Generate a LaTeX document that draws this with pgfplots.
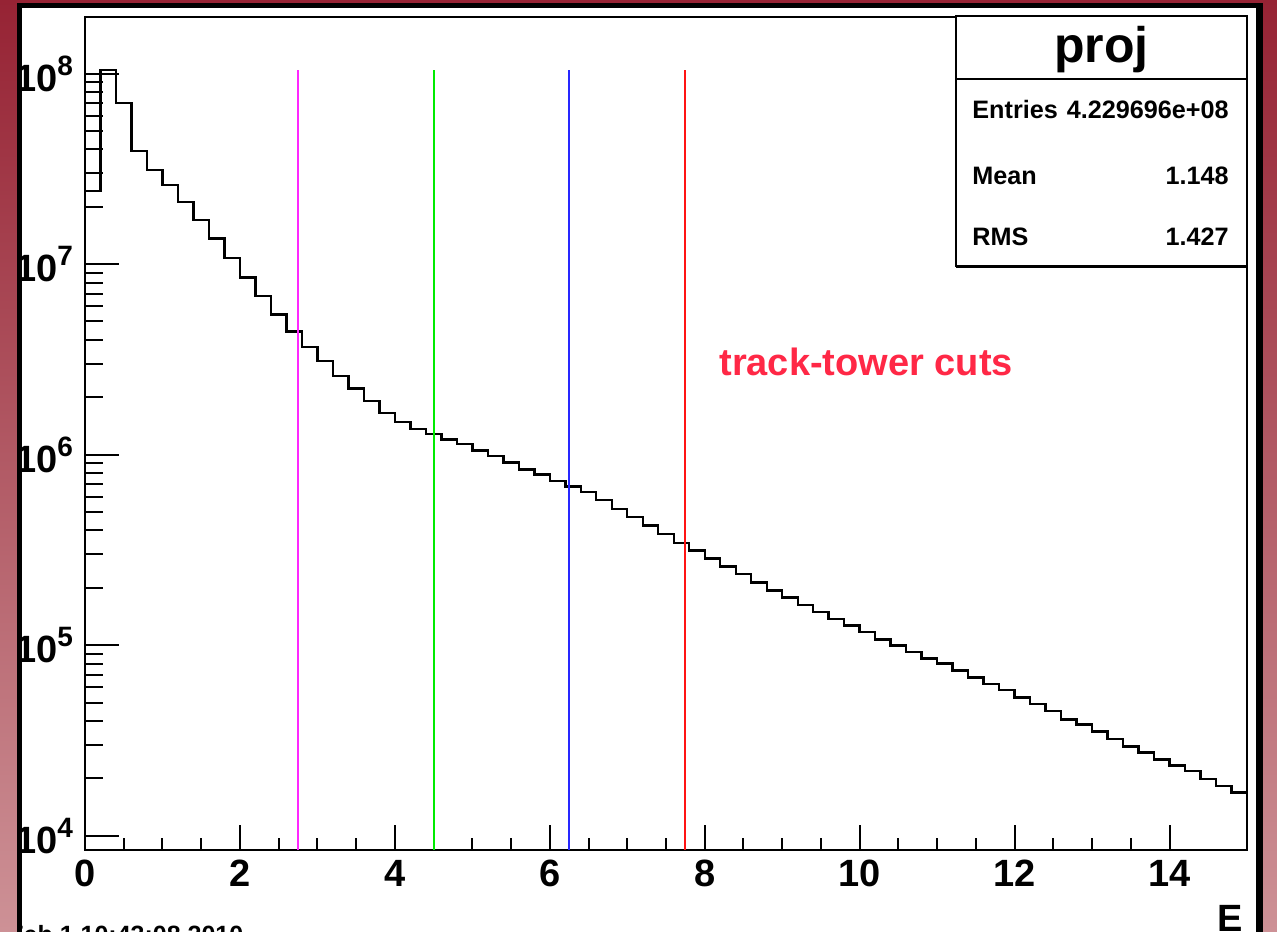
\documentclass[border=0pt]{standalone}
\usepackage{fontspec}
\setmainfont{Liberation Sans}
\usepackage{pgfplots}
\pgfplotsset{compat=1.18}

\definecolor{bgtop}{RGB}{150,35,52}
\definecolor{bgbot}{RGB}{205,145,150}
\definecolor{cutmag}{RGB}{255,40,255}
\definecolor{cutgreen}{RGB}{0,235,0}
\definecolor{cutblue}{RGB}{40,40,255}
\definecolor{cutred}{RGB}{255,20,20}
\definecolor{txtred}{RGB}{255,40,70}

\newcommand\tenp[1]{10\raisebox{0.42em}{\fontsize{14}{14}\selectfont #1}}

\begin{document}
\begin{tikzpicture}
% slide background and canvas
\shade[top color=bgtop, bottom color=bgbot] (0,0) rectangle (638.5pt,-465.5pt);
\fill[black] (8.5pt,-1.5pt) rectangle (631.5pt,-470pt);
\fill[white] (11pt,-4pt) rectangle (628pt,-470pt);
\begin{scope}
  \clip (11pt,-4pt) rectangle (628pt,-470pt);
  \node[anchor=north west, inner sep=0pt, font=\bfseries\fontsize{12.5}{12.5}\selectfont]
    at (4pt,-462.5pt) {Feb 1 10:43:08 2010};
\end{scope}

\begin{axis}[
    at={(42.5pt,-425pt)}, anchor=south west,
    scale only axis, width=581pt, height=416.5pt,
    xmin=0, xmax=15,
    ymode=log, ymin=8420, ymax=1.98e8,
    axis line style={line width=1pt},
    xtick={0,2,...,14}, minor x tick num=3,
    ytick={1e4,1e5,1e6,1e7,1e8},
    yticklabels={\tenp{4},\tenp{5},\tenp{6},\tenp{7},\tenp{8}},
    xtick pos=bottom, ytick pos=left,
    major tick length=12.5pt, minor tick length=6pt,
    every major y tick/.append style={/pgfplots/major tick length=17pt},
    every minor y tick/.append style={/pgfplots/minor tick length=9pt},
    every tick/.style={black, line width=1pt},
    ticklabel style={font=\bfseries\fontsize{19}{19}\selectfont},
    xticklabel style={yshift=-1.5pt},
    yticklabel style={xshift=-2.5pt},
    /pgf/number format/assume math mode=true,
]
% histogram, bin width 0.2
\addplot[const plot, black, line width=1.2pt] coordinates {
(0.0,2.42e7) (0.2,1.046e8) (0.4,7.02e7) (0.6,3.92e7) (0.8,3.12e7)
(1.0,2.60e7) (1.2,2.12e7) (1.4,1.70e7) (1.6,1.36e7) (1.8,1.08e7)
(2.0,8.49e6) (2.2,6.79e6) (2.4,5.44e6) (2.6,4.43e6) (2.8,3.68e6)
(3.0,3.09e6) (3.2,2.59e6) (3.4,2.22e6) (3.6,1.91e6) (3.8,1.66e6)
(4.0,1.48e6) (4.2,1.36e6) (4.4,1.28e6) (4.6,1.20e6) (4.8,1.14e6)
(5.0,1.05e6) (5.2,9.87e5) (5.4,9.10e5) (5.6,8.36e5) (5.8,7.87e5)
(6.0,7.30e5) (6.2,6.82e5) (6.4,6.36e5) (6.6,5.80e5) (6.8,5.20e5)
(7.0,4.70e5) (7.2,4.24e5) (7.4,3.82e5) (7.6,3.45e5) (7.8,3.14e5)
(8.0,2.85e5) (8.2,2.59e5) (8.4,2.36e5) (8.6,2.13e5) (8.8,1.94e5)
(9.0,1.78e5) (9.2,1.63e5) (9.4,1.49e5) (9.6,1.37e5) (9.8,1.27e5)
(10.0,1.173e5) (10.2,1.074e5) (10.4,9.95e4) (10.6,9.21e4) (10.8,8.51e4)
(11.0,8.01e4) (11.2,7.36e4) (11.4,6.76e4) (11.6,6.26e4) (11.8,5.80e4)
(12.0,5.32e4) (12.2,4.91e4) (12.4,4.51e4) (12.6,4.08e4) (12.8,3.83e4)
(13.0,3.52e4) (13.2,3.23e4) (13.4,2.94e4) (13.6,2.74e4) (13.8,2.51e4)
(14.0,2.34e4) (14.2,2.18e4) (14.4,1.99e4) (14.6,1.83e4) (14.8,1.69e4)
(15.0,1.69e4)
};
% cut lines
\addplot[cutmag, line width=1pt] coordinates {(2.75,8420) (2.75,1.045e8)};
\addplot[cutgreen, line width=1pt] coordinates {(4.5,8420) (4.5,1.045e8)};
\addplot[cutblue, line width=1pt] coordinates {(6.25,8420) (6.25,1.045e8)};
\addplot[cutred, line width=1pt] coordinates {(7.75,8420) (7.75,1.045e8)};
\end{axis}

% left canvas border over the labels
\fill[black] (8.5pt,-1.5pt) rectangle (11pt,-470pt);

\node[anchor=base west, inner sep=0pt, text=txtred, font=\bfseries\fontsize{19}{19}\selectfont]
  at (359.5pt,-187.5pt) {track-tower cuts};

% stats box
\draw[line width=1pt, fill=white] (478pt,-8pt) rectangle (623.5pt,-133pt);
\draw[line width=1.6pt] (478pt,-133.4pt) -- (623.5pt,-133.4pt);
\draw[line width=1pt] (478pt,-39.5pt) -- (623.5pt,-39.5pt);
\node[anchor=base, inner sep=0pt, font=\bfseries\fontsize{25}{25}\selectfont] at (550.75pt,-31.5pt) {proj};
\begin{scope}[every node/.style={inner sep=0pt, font=\bfseries\fontsize{12.6}{12.6}\selectfont}]
  \node[anchor=base west] at (486pt,-59.5pt) {Entries};
  \node[anchor=base east] at (614.5pt,-59.5pt) {4.229696e+08};
  \node[anchor=base west] at (486pt,-92pt) {Mean};
  \node[anchor=base east] at (614.5pt,-92pt) {1.148};
  \node[anchor=base west] at (486pt,-122.5pt) {RMS};
  \node[anchor=base east] at (614.5pt,-122.5pt) {1.427};
\end{scope}

\node[anchor=north east, inner sep=0pt, font=\bfseries\fontsize{19}{19}\selectfont] at (621.5pt,-452.5pt) {E};

\pgfresetboundingbox
\useasboundingbox (0,0) rectangle (638.5pt,-465.5pt);
\end{tikzpicture}
\end{document}
